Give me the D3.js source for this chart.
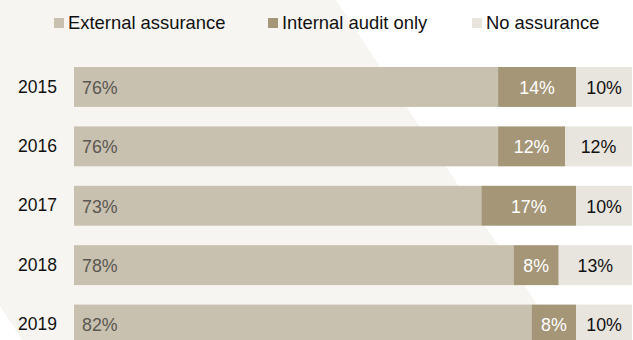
<!DOCTYPE html>
<html>
<head>
<meta charset="utf-8">
<script src="https://cdn.jsdelivr.net/npm/d3@7"></script>
<style>
  html, body { margin: 0; padding: 0; background: #ffffff; }
  svg { display: block; font-family: "Liberation Sans", Arial, Helvetica, sans-serif; }
</style>
</head>
<body>
<svg id="chart" width="633" height="340"></svg>
<script>
// Assurance type by year (percent of respondents)
const years = ["2015", "2016", "2017", "2018", "2019"];
const externalAssurance = [76, 76, 73, 78, 82];
const internalAuditOnly = [14, 12, 17, 8, 8];
const noAssurance = [10, 12, 10, 13, 10];
const seriesNames = ["External assurance", "Internal audit only", "No assurance"];
const seriesKeys = ["external", "internal", "none"];

const colors = { external: "#c9c1b0", internal: "#a59677", none: "#e8e5de" };
const labelColors = { external: "#5a5750", internal: "#ffffff", none: "#111111" };

const W = 633, H = 340;
const svg = d3.select("#chart");

// Decorative diagonal background band
const slope = 0.66;
svg.append("polygon")
  .attr("points", [
    [-400, 0], [336, 0], [336 + slope * H, H], [slope * (H - 306), H], [0, 306], [0, 0]
  ].map(p => p.join(",")).join(" "))
  .attr("fill", "#f6f5f1");

const rows = years.map((y, i) => ({
  year: y,
  external: externalAssurance[i],
  internal: internalAuditOnly[i],
  none: noAssurance[i]
}));

// 100% stacked layout
const stacked = d3.stack().keys(seriesKeys).offset(d3.stackOffsetExpand)(rows);

const x = d3.scaleLinear().domain([0, 1]).range([74, 632]);
const y = d3.scaleBand().domain(years).range([67, 344.5]).paddingInner(0.328).paddingOuter(0);

// Year labels
const yAxis = d3.axisLeft(y).tickSize(0).tickPadding(17);
const yg = svg.append("g").attr("transform", `translate(${x(0)},0)`).call(yAxis);
yg.select(".domain").remove();
yg.selectAll("text")
  .attr("font-size", "17.5px")
  .attr("font-family", "\"Liberation Sans\", Arial, sans-serif")
  .attr("fill", "#111111");

// Bars
const layers = svg.append("g").selectAll("g")
  .data(stacked)
  .join("g")
  .attr("fill", d => colors[d.key]);

layers.selectAll("rect")
  .data(d => d.map(v => ({ key: d.key, v })))
  .join("rect")
  .attr("x", d => x(d.v[0]))
  .attr("width", d => x(d.v[1]) - x(d.v[0]))
  .attr("y", d => y(d.v.data.year))
  .attr("height", y.bandwidth());

// Value labels
layers.selectAll("text")
  .data(d => d.map(v => ({ key: d.key, v })))
  .join("text")
  .attr("x", d => d.key === "external" ? x(d.v[0]) + 8 : (x(d.v[0]) + x(d.v[1])) / 2)
  .attr("y", d => y(d.v.data.year) + y.bandwidth() / 2)
  .attr("dy", "0.38em")
  .attr("text-anchor", d => d.key === "external" ? "start" : "middle")
  .attr("font-size", "17.8px")
  .attr("fill", d => labelColors[d.key])
  .text(d => d.v.data[d.key] + "%");

// Legend
const legendX = [54, 268, 472];
const legend = svg.append("g").selectAll("g")
  .data(seriesKeys)
  .join("g")
  .attr("transform", (d, i) => `translate(${legendX[i]},18)`);
legend.append("rect")
  .attr("width", 10).attr("height", 10)
  .attr("fill", d => colors[d]);
legend.append("text")
  .attr("x", 14).attr("y", 11)
  .attr("font-size", "18.4px")
  .attr("fill", "#111111")
  .text((d, i) => seriesNames[i]);
</script>
</body>
</html>
